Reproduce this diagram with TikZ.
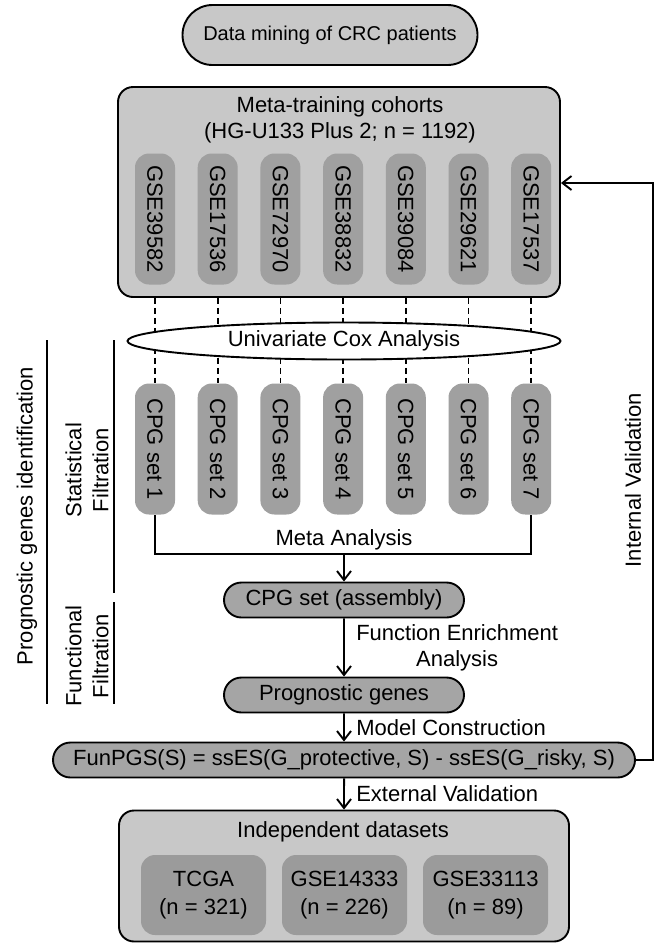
\documentclass[tikz,border=0pt]{standalone}
\usepackage{fontspec}
\setmainfont{Liberation Sans}
\usepackage{tikz}
\usetikzlibrary{arrows.meta,positioning,shapes,calc}

\definecolor{boxgray}{RGB}{200,200,200}
\definecolor{pillgray}{RGB}{160,160,160}
\definecolor{stagegray}{RGB}{165,165,165}

\begin{document}
\begin{tikzpicture}[x=1pt, y=1pt, node distance=95pt, >={Straight Barb[length=9pt,width=14pt]}, line width=1.9pt, font=\fontsize{22}{26}\selectfont]
    \tikzstyle{cohort} = [draw, rounded corners=15pt, fill=boxgray, inner sep=0pt]
    \tikzstyle{pill} = [rounded corners=14pt, fill=pillgray, rotate=-90, minimum width=131pt, minimum height=40pt, inner sep=0pt]
    \tikzstyle{stage} = [draw, rounded rectangle, fill=stagegray, minimum height=35pt, inner sep=0pt]
    \tikzstyle{dataset} = [rounded corners=14pt, fill=pillgray!105, minimum width=125pt, minimum height=80pt, align=center, inner sep=0pt, font=\fontsize{22}{28}\selectfont]
    \tikzstyle{side} = [rotate=90, align=center, font=\fontsize{22}{27}\selectfont]

    \useasboundingbox (0,0) rectangle (654,-946);

    \node [stage, fill=boxgray, minimum width=295pt, minimum height=60pt, font=\fontsize{20}{24}\selectfont] (mining) at (330,-35) {Data mining of CRC patients};

    % training cohorts
    \node [cohort, minimum width=442pt, minimum height=210pt] (meta) at (339,-192) {};
    \node [align=center] (metatitle) at (340,-120) {Meta-training cohorts\\(HG-U133 Plus 2; n = 1192)};
    \foreach \name [count=\i] in {39582,17536,72970,38832,39084,29621,17537}
        \node [pill] (gse\i) at ({92.3+62.7*\i},-219) {GSE\name};

    % candidate prognostic gene sets
    \foreach \i in {1,...,7}
        \node [pill] (cpg\i) at (gse\i |- 0,-449) {CPG set \i};
    \foreach \i in {1,...,7}
        \draw [dash pattern=on 6pt off 4pt, line width=1.6pt] (gse\i |- meta.south) -- (cpg\i.west);
    \node [ellipse, draw, fill=white, minimum width=433pt, minimum height=37pt, inner sep=0pt] (cox) at (344,-341) {Univariate Cox Analysis};

    \node [stage, minimum width=240pt] (assembly) at (344,-600) {CPG set (assembly)};
    \node [stage, minimum width=240pt, below of=assembly] (genes) {Prognostic genes};
    \node [stage, minimum width=582pt, below of=genes, node distance=65pt] (funpgs) {FunPGS(S) = ssES(G\_protective, S) - ssES(G\_risky, S)};

    % validation sets
    \node [cohort, minimum width=450pt, minimum height=131pt, below of=funpgs, node distance=116pt] (indep) {};
    \node (indeptitle) at (343,-832) {Independent datasets};
    \node [dataset] (tcga) at (203.5,-895) {TCGA\\(n = 321)};
    \node [dataset, right of=tcga, node distance=141pt] (gse14333) {GSE14333\\(n = 226)};
    \node [dataset, right of=gse14333, node distance=141pt] (gse33113) {GSE33113\\(n = 89)};

    \coordinate (join) at (assembly |- 0,-554);
    \draw (cpg1.east) |- (join) -| (cpg7.east);
    \node [above] (metaanalysis) at (join) {Meta Analysis};
    \draw [->] (join) -- (assembly);
    \draw [->] (assembly) -- node [right, align=center, xshift=8pt] {Function Enrichment\\Analysis} (genes);
    \draw [->] (genes) -- node [right, xshift=8pt] {Model Construction} (funpgs);
    \draw [->] (funpgs) -- node [right, xshift=8pt] {External Validation} (indep);
    \draw [->] (funpgs.east) -- ++(17,0) |- ([yshift=9pt]meta.east);
    \node [rotate=90] (internal) at (633,-480) {Internal Validation};

    % left brackets
    \node [side] (prognostic) at (27,-516) {Prognostic genes identification};
    \draw (47,-340) -- (47,-704);
    \node [side] (statistical) at (87,-470) {Statistical\\Filtration};
    \draw (114,-340) -- (114,-593);
    \node [side] (functional) at (87,-656) {Functional\\Filtration};
    \draw (114,-602) -- (114,-704);
\end{tikzpicture}
\end{document}
